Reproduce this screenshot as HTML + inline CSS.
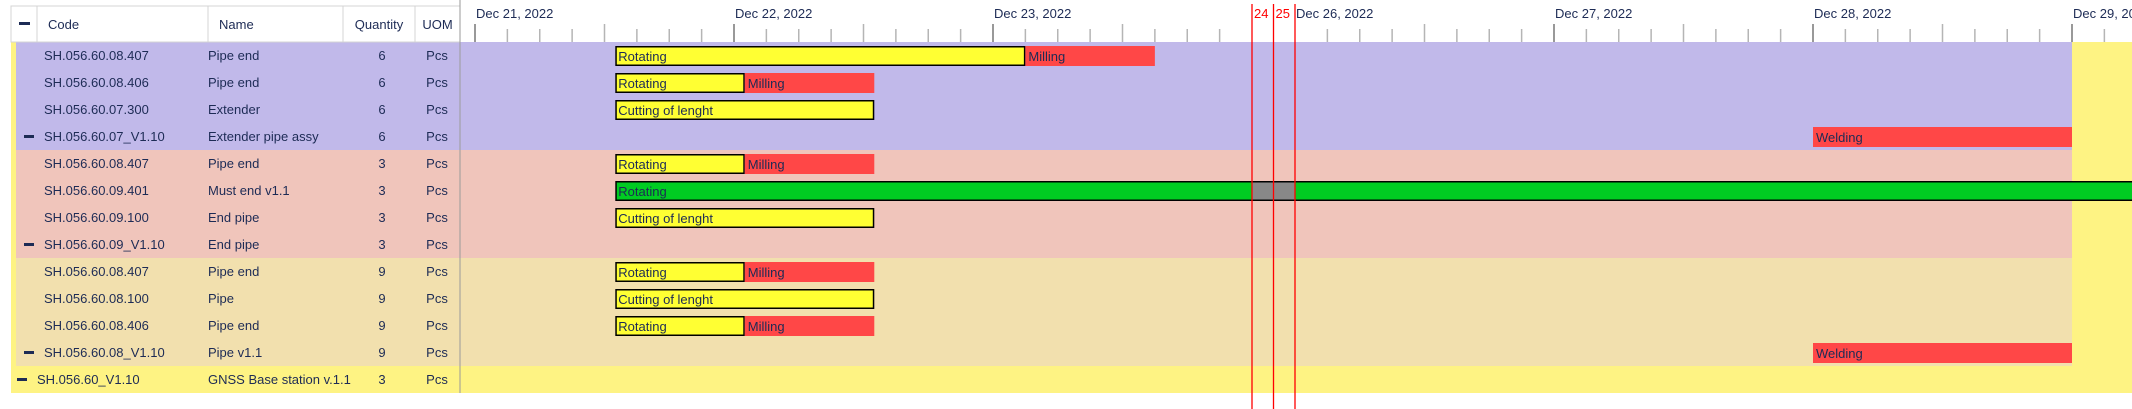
<!DOCTYPE html>
<html><head><meta charset="utf-8">
<style>
html,body{margin:0;padding:0;background:#fff;width:2132px;height:409px;overflow:hidden}
svg{display:block;font-family:"Liberation Sans",sans-serif}
</style></head>
<body>
<svg id="chart" width="2132" height="409" viewBox="0 0 2132 409" xmlns="http://www.w3.org/2000/svg"></svg>
<script>
// ---- data ----
const rowCodes = ["SH.056.60.08.407","SH.056.60.08.406","SH.056.60.07.300","SH.056.60.07_V1.10","SH.056.60.08.407","SH.056.60.09.401","SH.056.60.09.100","SH.056.60.09_V1.10","SH.056.60.08.407","SH.056.60.08.100","SH.056.60.08.406","SH.056.60.08_V1.10","SH.056.60_V1.10"];
const rowNames = ["Pipe end","Pipe end","Extender","Extender pipe assy","Pipe end","Must end v1.1","End pipe","End pipe","Pipe end","Pipe","Pipe end","Pipe v1.1","GNSS Base station v.1.1"];
const rowQty = [6,6,6,6,3,3,3,3,9,9,9,9,3];
const rowLevel = [2,2,2,1,2,2,2,1,2,2,2,1,0];
const rowGroup = [0,0,0,0,1,1,1,1,2,2,2,2,3];
const dayLabels = ["Dec 21, 2022","Dec 22, 2022","Dec 23, 2022","24","25","Dec 26, 2022","Dec 27, 2022","Dec 28, 2022","Dec 29, 2022"];
// tasks: row index, start hour, end hour (hours since Dec 21 00:00), label, type
const taskRows   = [0,0,1,1,2,3,4,4,5,6,8,8,9,10,10,11];
const taskStart  = [13,51,13,25,13,168,13,25,13,13,13,25,13,13,25,168];
const taskEnd    = [51,63,25,37,37,192,25,37,260,37,25,37,37,25,37,192];
const taskLabels = ["Rotating","Milling","Rotating","Milling","Cutting of lenght","Welding","Rotating","Milling","Rotating","Cutting of lenght","Rotating","Milling","Cutting of lenght","Rotating","Milling","Welding"];
const taskType   = ["y","r","y","r","y","r","y","r","g","y","y","r","y","y","r","r"];
const groupEndHour = 192;

// ---- layout ----
const NS="http://www.w3.org/2000/svg";
const svg=document.getElementById('chart');
const ROW0=42, RH=27, CH_X=460;
const groupColors=["#c1b9ea","#f0c5bb","#f2e0ae","#fef383"];
function xOf(h){
  const pd=259/24;
  if(h<=72) return 475+h*pd;
  if(h<=96) return 1252+(h-72)*21.5/24;
  if(h<=120) return 1273.5+(h-96)*21.5/24;
  return 1295+(h-120)*pd;
}
function el(tag,attrs,parent){const e=document.createElementNS(NS,tag);for(const k in attrs)e.setAttribute(k,attrs[k]);(parent||svg).appendChild(e);return e;}
function txt(s,attrs,parent){const e=el('text',attrs,parent);e.textContent=s;return e;}
const TC="#1d2b55";

// root yellow background
el('rect',{x:11,y:ROW0,width:2121,height:RH*13,fill:"#fef383"});
// group backgrounds
for(let i=0;i<rowCodes.length;i++){
  const g=rowGroup[i];
  if(g<3){
    const r=el('rect',{x:16,y:ROW0+i*RH,width:xOf(groupEndHour)-16,height:RH,fill:groupColors[g]});
    
    
  }
}
// header
const hdr=el('g',{});


el('rect',{x:11,y:6,width:449,height:36,fill:"#fff",stroke:"#d4d4d4"},hdr);
const cols=[[11,37],[37,208],[208,343],[343,415],[415,460]];
cols.forEach(c=>el('line',{x1:c[1],y1:6,x2:c[1],y2:42,stroke:"#d4d4d4"},hdr));
el('rect',{x:19,y:22,width:11,height:3,fill:TC},hdr);
const h1=txt("Code",{x:48,y:29,'font-size':13,fill:TC},hdr);

const h2=txt("Name",{x:219,y:29,'font-size':13,fill:TC},hdr);

const h3=txt("Quantity",{x:379,y:29,'font-size':13,fill:TC,'text-anchor':'middle'},hdr);

const h4=txt("UOM",{x:437.5,y:29,'font-size':13,fill:TC,'text-anchor':'middle'},hdr);

el('line',{x1:CH_X,y1:0,x2:CH_X,y2:393,stroke:"#9a9a9a"});

// timeline header ticks
const dayHours=[0,24,48,72,96,120,144,168,192];
for(let d=0;d<dayHours.length;d++){
  const h=dayHours[d];
  const x=xOf(h);
  const isRed=(h===72||h===96);
  if(!isRed){
    const t=el('line',{x1:x,y1:24,x2:x,y2:42,stroke:"#333",'stroke-width':1});
    
    if(h<72||h>=120){
      for(let k=1;k<8;k++){
        const xx=xOf(h+k*3);
        if(xx>2132) break;
        el('line',{x1:xx,y1:k===4?24:29,x2:xx,y2:42,stroke:"#b5b5b5",'stroke-width':1.5});
      }
    }
  }
  const lb=txt(dayLabels[d],{x:x+(isRed?2:1),y:18,'font-size':13,fill:isRed?"#ff0000":TC});
  
}

// rows text
for(let i=0;i<rowCodes.length;i++){
  const y=ROW0+i*RH+18;
  const lvl=rowLevel[i];
  const cx = lvl===0?37:44;
  if(lvl<2){
    const m=el('rect',{x:lvl===0?17:24,y:ROW0+i*RH+12,width:10,height:3,fill:TC});
    
  }
  const c=txt(rowCodes[i],{x:cx,y:y,'font-size':13,fill:TC});
  
  const n=txt(rowNames[i],{x:208,y:y,'font-size':13,fill:TC});
  
  const q=txt(String(rowQty[i]),{x:382,y:y,'font-size':13,fill:TC,'text-anchor':'middle'});
  
  const u=txt("Pcs",{x:437,y:y,'font-size':13,fill:TC,'text-anchor':'middle'});
  
}

// task bars
const fills={y:"#ffff33",r:"#ff4747",g:"#00cc22"};
for(let t=0;t<taskRows.length;t++){
  const x1=xOf(taskStart[t]), x2=Math.min(xOf(taskEnd[t]),2140);
  const y=ROW0+taskRows[t]*RH+4;
  const g=el('g',{});
  
  
  const hasBorder=taskType[t]!=="r";
  el('rect',{x:x1+(hasBorder?0.75:0),y:y+(hasBorder?0.75:0),width:x2-x1-(hasBorder?1.5:0),height:hasBorder?18.5:20,fill:fills[taskType[t]],stroke:hasBorder?"#000":"none",'stroke-width':hasBorder?1.5:0},g);
  if(taskType[t]==="g"){
    el('rect',{x:xOf(72),y:y+1.5,width:xOf(120)-xOf(72),height:17,fill:"#888"},g);
  }
  txt(taskLabels[t],{x:x1+3,y:y+15,'font-size':13,fill:TC},g);
}
// red day-boundary markers
[72,96,120].forEach(h=>{
  const l=el('line',{x1:xOf(h),y1:4,x2:xOf(h),y2:409,stroke:"#ff0000",'stroke-width':1.3});
  
  
});
</script>
</body></html>
